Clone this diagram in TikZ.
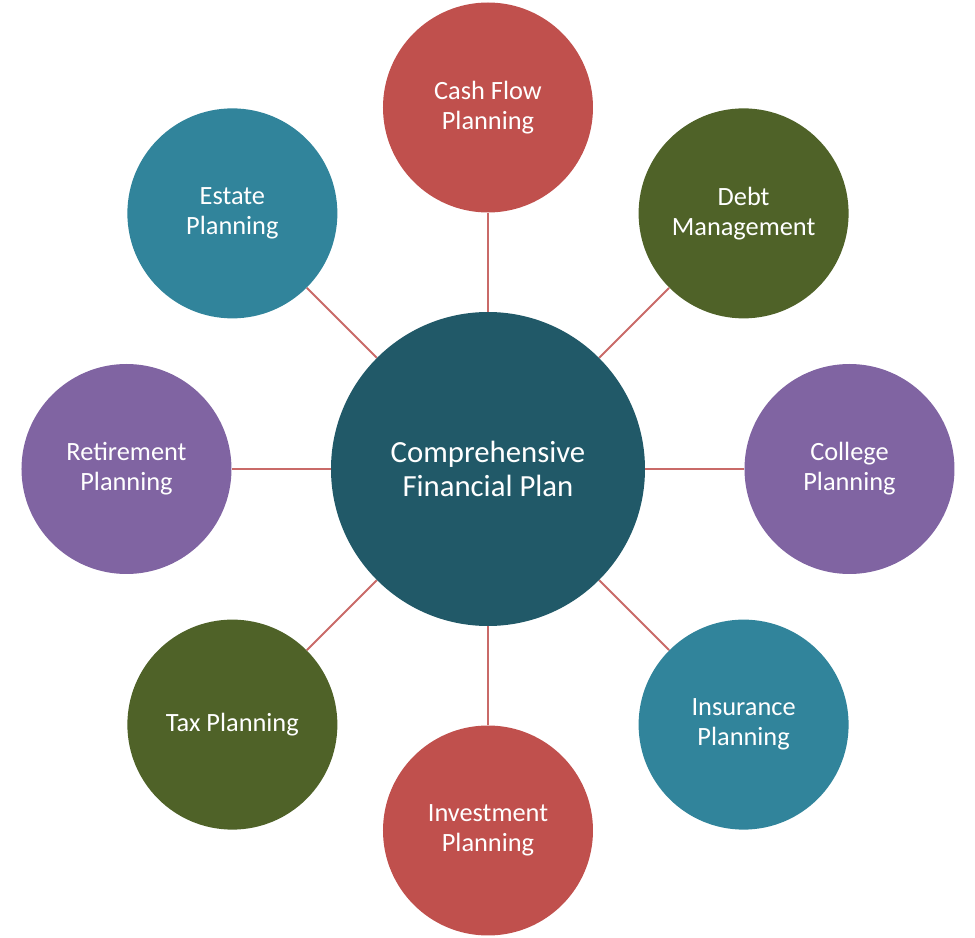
\documentclass[tikz,border=0pt]{standalone}
\usepackage{fontspec}
\setmainfont{Carlito}
\usepackage{xcolor}
\usetikzlibrary{positioning, calc}
\definecolor{planred}{RGB}{192, 80, 77}
\definecolor{planolive}{RGB}{79, 98, 40}
\definecolor{planteal}{RGB}{49, 132, 155}
\definecolor{planpurple}{RGB}{128, 100, 162}
\definecolor{plancore}{RGB}{33, 89, 104}

\tikzset{
  topic/.style={circle, minimum size=4.2cm, inner sep=0pt, text=white,
    align=center, font=\fontsize{15}{17}\selectfont},
  core/.style={circle, minimum size=6.28cm, inner sep=0pt, fill=plancore,
    text=white, align=center, font=\fontsize{17.5}{19.3}\selectfont},
  spoke/.style={draw=planred!85, line width=1.1pt}
}

\begin{document}
\begin{tikzpicture}
  \useasboundingbox (-9.76,-9.38) rectangle (9.74,9.38);
  \node[core] (plan) at (0,0) {Comprehensive\\Financial Plan};
  % surrounding topics, clockwise from the top
  \foreach \ang/\name/\col/\txt in {
      90/cash/planred/{Cash Flow\\Planning},
      45/debt/planolive/{Debt\\Management},
      0/college/planpurple/{College\\Planning},
      -45/insurance/planteal/{Insurance\\Planning},
      -90/invest/planred/{Investment\\Planning},
      -135/tax/planolive/{Tax Planning},
      180/retire/planpurple/{Retirement\\Planning},
      135/estate/planteal/{Estate\\Planning}} {
    \node[topic, fill=\col] (\name) at (\ang:7.23) {\txt};
    \draw[spoke] (plan) -- (\name);
  }
\end{tikzpicture}
\end{document}
